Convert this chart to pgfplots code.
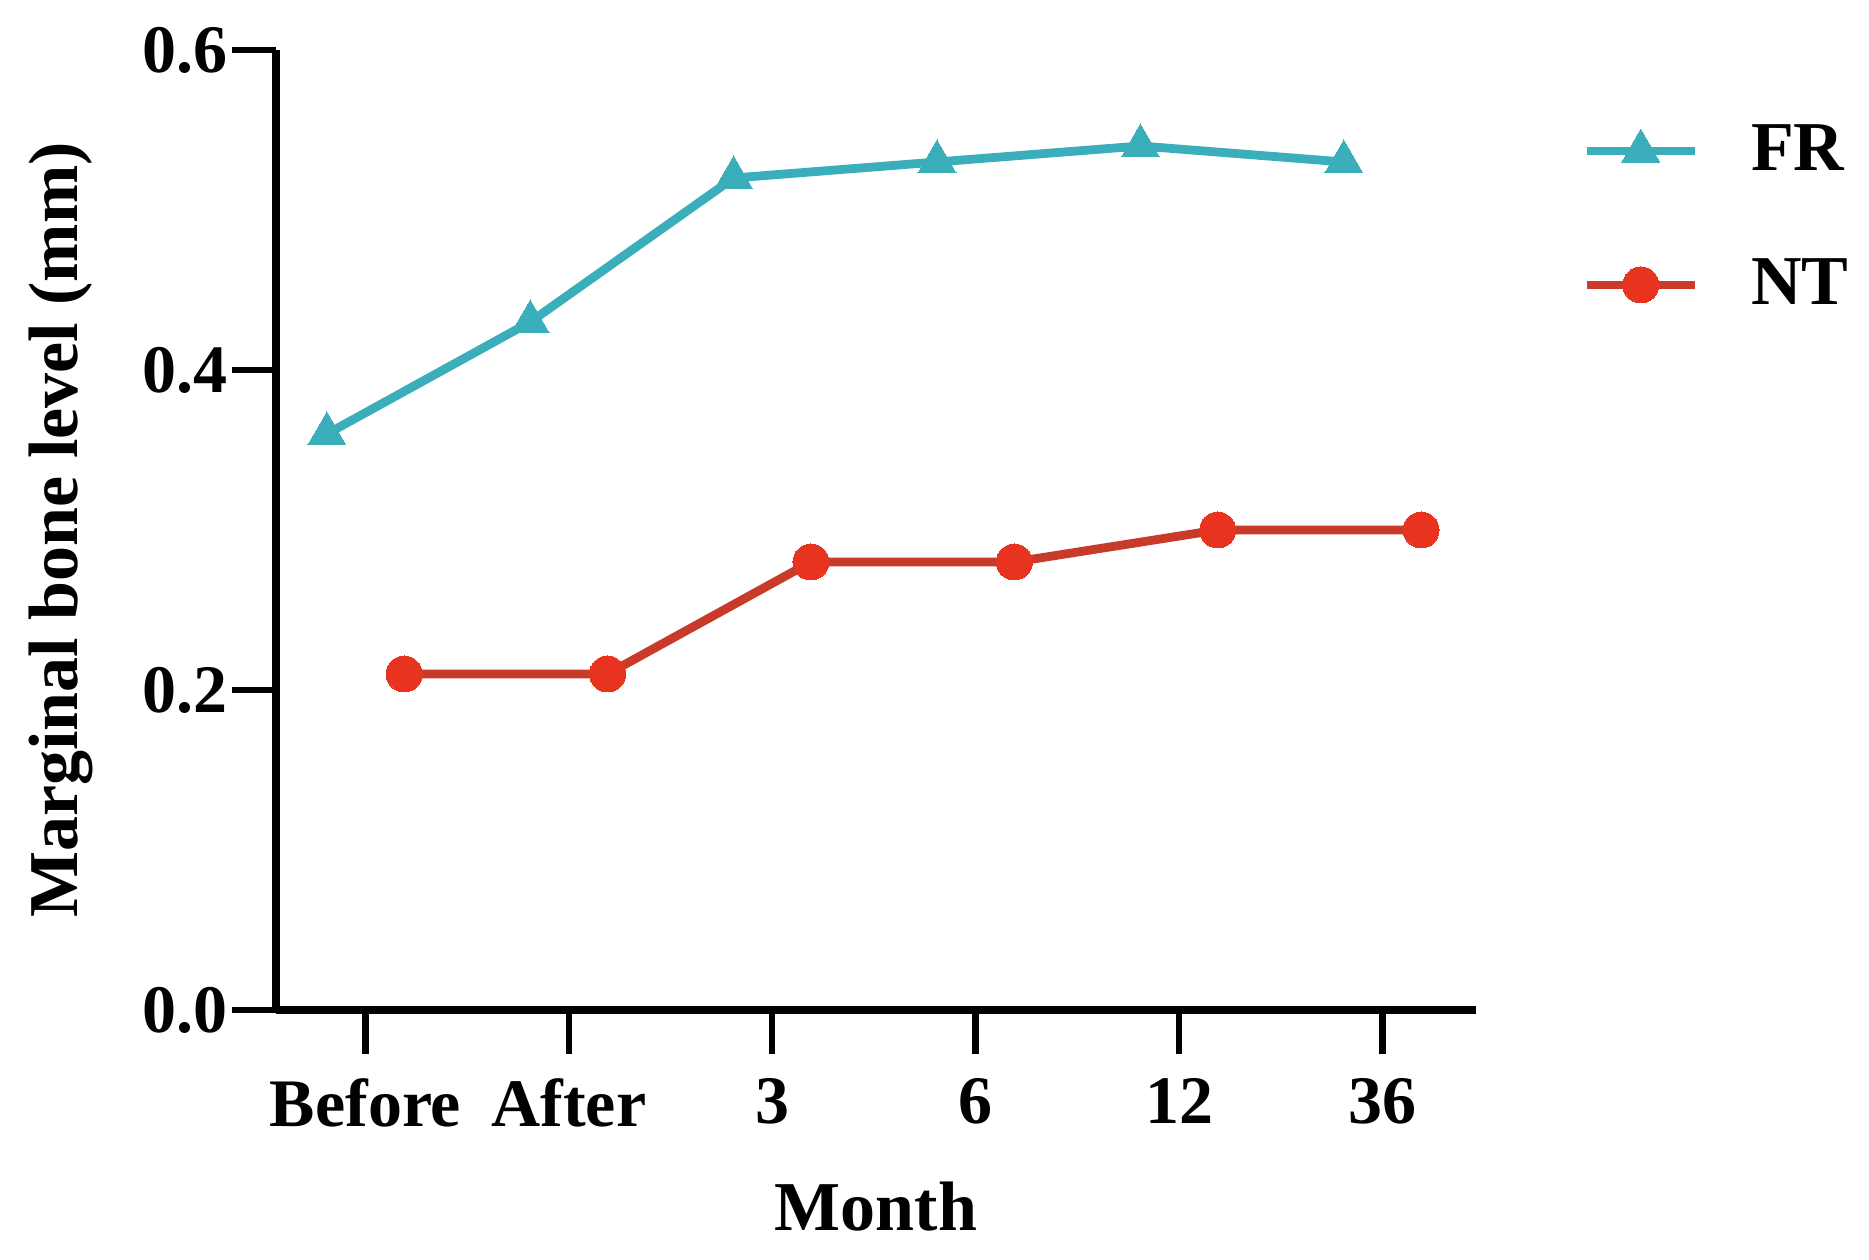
\documentclass[border=0pt]{standalone}
\usepackage{pgfplots}
\pgfplotsset{compat=1.18}
\usepackage{fontspec}
\setmainfont{Liberation Serif}
\definecolor{frcol}{HTML}{3AAEBB}
\definecolor{ntline}{HTML}{C83A2A}
\definecolor{ntmark}{HTML}{E8341F}

\begin{document}
\begin{tikzpicture}
\path[use as bounding box] (-69pt,-62.5pt) rectangle (398.25pt,252.5pt);
\begin{axis}[
  scale only axis, width=300pt, height=240pt,
  axis lines*=left, axis line style={line width=1.8pt},
  xmin=-0.44, xmax=5.46, ymin=0, ymax=0.6,
  xtick={0,1,2,3,4,5},
  xticklabels={Before,After,3,6,12,36},
  ytick={0,0.2,0.4,0.6},
  yticklabel style={/pgf/number format/fixed,/pgf/number format/precision=1,/pgf/number format/fixed zerofill, xshift=2.5pt},
  xticklabel style={yshift=-2.5pt},
  /pgf/number format/assume math mode=true,
  tick align=outside, major tick length=11pt,
  tick style={line width=1.6pt, black},
  ticklabel style={font=\fontsize{17}{20}\selectfont\bfseries},
  label style={font=\fontsize{17.5}{20}\selectfont\bfseries},
  xlabel={Month}, ylabel={Marginal bone level (mm)},
  xlabel style={yshift=-7pt},
  ylabel style={yshift=5.5pt},
  clip=false,
  legend style={draw=none, at={(axis description cs:1.078,0.825)}, anchor=west,
    font=\fontsize{17.5}{20}\selectfont\bfseries, row sep=16.5pt},
  legend cell align=left,
  legend image code/.code={\draw[mark repeat=2,mark phase=2,#1] plot coordinates {(0pt,0pt) (13.5pt,0pt) (27pt,0pt)};
    \path (38pt,0pt);},
]
\addplot[color=frcol, line width=2.2pt, mark=triangle*, mark size=5.5pt, mark options={fill=frcol, draw=frcol, line width=0pt}]
  coordinates {(-0.19,0.36) (0.81,0.43) (1.81,0.52) (2.81,0.53) (3.81,0.54) (4.81,0.53)};
\addlegendentry{FR}
\addplot[color=ntline, line width=2.2pt, mark=*, mark size=4.5pt, mark options={fill=ntmark, draw=ntmark, line width=0pt}]
  coordinates {(0.19,0.21) (1.19,0.21) (2.19,0.28) (3.19,0.28) (4.19,0.30) (5.19,0.30)};
\addlegendentry{NT}
\end{axis}
\end{tikzpicture}
\end{document}
